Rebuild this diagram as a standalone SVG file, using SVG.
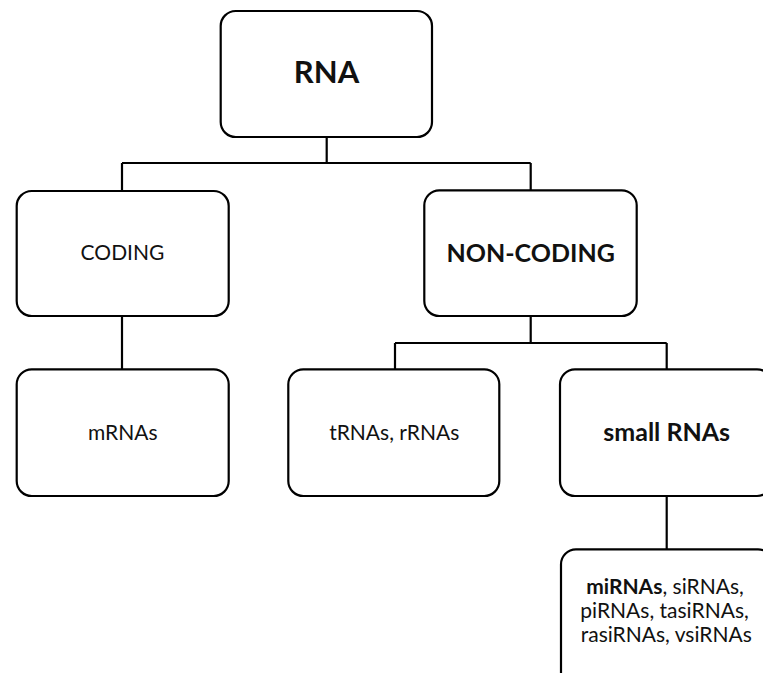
<svg xmlns="http://www.w3.org/2000/svg" width="763" height="673" viewBox="0 0 763 673">
<style>
.box{fill:#fff;stroke:#000;stroke-width:2.2}
.ln{fill:none;stroke:#000;stroke-width:2.2}
text{font-family:Lato,"Open Sans","Liberation Sans",sans-serif;fill:#111;text-anchor:middle}
.n{font-size:21px}
.b{font-size:25px;font-weight:bold}
.big{font-size:31px;font-weight:bold}
</style>
<rect width="763" height="673" fill="#fff"/>
<g id="connectors">
<path class="ln" d="M326.7 137V163M122 163H530.7M122 163V191M530.7 163V190.3"/>
<path class="ln" d="M122 316V369.3"/>
<path class="ln" d="M530.7 316V343M395 343H666.7M395 343V369.3M666.7 343V369.3"/>
<path class="ln" d="M666.7 496V549.3"/>
</g>
<g id="rna">
<rect class="box" x="220.7" y="11" width="211.3" height="126" rx="15"/>
<text class="big" x="326.5" y="83.3">RNA</text>
</g>
<g id="coding">
<rect class="box" x="16.7" y="191" width="212" height="125" rx="15"/>
<text class="n" x="122.5" y="260">CODING</text>
</g>
<g id="noncoding">
<rect class="box" x="424.3" y="190.3" width="212.4" height="125.7" rx="15"/>
<text class="b" x="530.7" y="261.7">NON-CODING</text>
</g>
<g id="mrnas">
<rect class="box" x="16.7" y="369.3" width="212" height="126.7" rx="15"/>
<text class="n" x="122.7" y="440">mRNAs</text>
</g>
<g id="trnas">
<rect class="box" x="288.3" y="369.3" width="211" height="126.7" rx="15"/>
<text class="n" x="394.2" y="440">tRNAs, rRNAs</text>
</g>
<g id="smallrnas">
<rect class="box" x="560" y="369.3" width="212" height="126.7" rx="15"/>
<text class="b" x="666.7" y="441">small RNAs</text>
</g>
<g id="smalltypes">
<rect class="box" x="561" y="549.3" width="212" height="140" rx="15"/>
<text class="n" x="665" y="594"><tspan font-weight="bold">miRNAs</tspan>, siRNAs,</text>
<text class="n" x="664.5" y="618">piRNAs, tasiRNAs,</text>
<text class="n" x="666.3" y="641.7">rasiRNAs, vsiRNAs</text>
</g>
</svg>
